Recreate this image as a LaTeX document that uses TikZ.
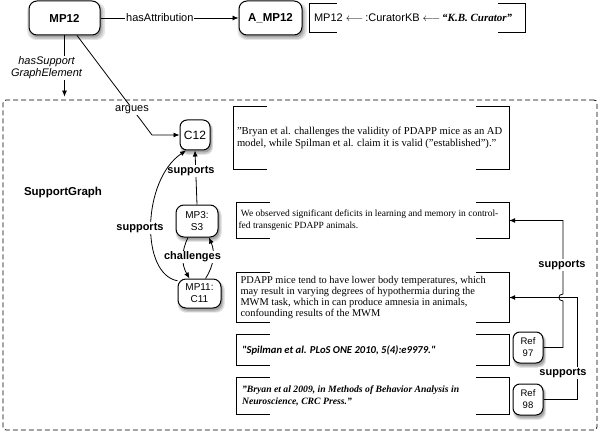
\documentclass[tikz,border=0pt]{standalone}
\usepackage{fontspec}
\setmainfont{Liberation Serif}
\setsansfont{Liberation Sans}
\newfontfamily\carlito{Carlito}
\usetikzlibrary{arrows.meta,shadows,calc}
\begin{document}
\begin{tikzpicture}[x=1pt,y=-1pt,
  every node/.style={font=\sffamily},
  rnode/.style={draw=black, line width=1pt, rounded corners=8pt, fill=white, inner sep=0pt, align=center,
    drop shadow={shadow xshift=1.5pt, shadow yshift=-3pt, opacity=0.10, fill=black, shadow scale=1.10},
    drop shadow={shadow xshift=1.5pt, shadow yshift=-3pt, opacity=0.12, fill=black, shadow scale=1.05},
    drop shadow={shadow xshift=1.5pt, shadow yshift=-2.5pt, opacity=0.18, fill=black}},
  frame/.style={inner sep=0pt},
  tb/.style={inner sep=0pt, align=left, anchor=west},
  br/.style={line width=1.1pt},
  arr/.style={-{Latex[length=6pt,width=5pt]}, line width=0.8pt},
  lab/.style={fill=white, inner sep=1pt, font=\sffamily\bfseries\fontsize{11}{13}\selectfont},
  rel/.style={fill=white, inner sep=1pt, font=\sffamily\fontsize{11}{13}\selectfont}
]
\fill[white] (0,0) rectangle (600,433);
\useasboundingbox (0,0) rectangle (600,433);

% support graph frame
\node[frame, draw, line width=0.8pt, dash pattern=on 5pt off 3pt, rounded corners=3pt,
  minimum width=594pt, minimum height=330pt] (SG) at (300,265) {};
\node[font=\sffamily\bfseries\fontsize{11.5}{13}\selectfont] (sgl) at (63,193) {SupportGraph};

% top nodes
\node[rnode, minimum width=71pt, minimum height=34pt, font=\sffamily\bfseries\fontsize{11.5}{13}\selectfont] (MP12) at (64.5,18) {MP12};
\node[rnode, minimum width=63pt, minimum height=34pt, font=\sffamily\bfseries\fontsize{11.5}{13}\selectfont] (AMP) at (270.5,18) {A\_MP12};
\draw[arr] (MP12) -- (AMP) node[rel, pos=0.43] {hasAttribution};

\node[frame, minimum width=215pt, minimum height=28pt] (CK) at (417.5,18) {};
\node[tb, font=\sffamily\fontsize{11}{12}\selectfont] (CKt) at ([xshift=4pt]CK.west) {MP12 $\longleftarrow$\,:CuratorKB $\longleftarrow$\,{\rmfamily\bfseries\itshape “K.B. Curator”}};

\draw[arr, shorten >=3pt] (MP12.south) -- (MP12.south |- SG.north);
\node[rel, font=\sffamily\itshape\fontsize{11}{12}\selectfont, align=center] (hsge) at (46.5,68) {hasSupport\\GraphElement};

% claim nodes
\node[rnode, minimum width=30pt, minimum height=30pt, rounded corners=7pt, font=\sffamily\fontsize{12}{14}\selectfont] (C12) at (195,135) {C12};
\node[rnode, minimum width=42pt, minimum height=32pt, font=\sffamily\fontsize{10}{12}\selectfont] (MP3) at (197,221) {MP3:\\S3};
\node[rnode, minimum width=43pt, minimum height=29pt, font=\sffamily\fontsize{10}{12}\selectfont] (MP11) at (199.5,293.5) {MP11:\\C11};

\coordinate (ab) at (152,135);
\draw[arr] ([xshift=12.5pt]MP12.south) -- (ab) -- (C12.west);
\node[rel, inner sep=0.5pt] (arg) at (132,110) {argues};

\draw[arr] (MP3.north) -- (C12.south);
\node[lab] (s1) at (191,171) {supports};
\draw[arr] (MP11.150) .. controls (140,274) and (142,180) .. (C12.240);
\node[lab] (s2) at (140,228) {supports};

\draw[arr] ([xshift=-9pt]MP3.south) to[bend right=28] ([xshift=-10pt]MP11.north);
\draw[arr] ([xshift=6pt]MP11.north) to[bend right=28] ([xshift=12pt]MP3.south);
\node[lab] (ch) at (192.5,257) {challenges};

% text boxes
\node[frame, minimum width=275pt, minimum height=62pt] (B1) at (371.5,138) {};
\node[tb, font=\rmfamily\fontsize{10.6}{11.5}\selectfont] (B1t) at ([xshift=3pt]B1.west)
 {"Bryan et al. challenges the validity of PDAPP mice as an AD\\model, while Spilman et al. claim it is valid ("established")."};

\node[frame, minimum width=272pt, minimum height=35pt] (B2) at (373,220.5) {};
\node[tb, font=\rmfamily\fontsize{9.5}{12}\selectfont] (B2t) at ([xshift=1.5pt]B2.west)
 {\ We observed significant deficits in learning and memory in control-\\fed transgenic PDAPP animals.};

\node[frame, minimum width=272pt, minimum height=49pt] (B3) at (373,297.5) {};
\node[tb, font=\rmfamily\fontsize{10.4}{11.3}\selectfont] (B3t) at ([xshift=3.5pt]B3.west)
 {PDAPP mice tend to have lower body temperatures, which\\may result in varying degrees of hypothermia during the\\MWM task, which in can produce amnesia in animals,\\confounding results of the MWM};

\node[frame, minimum width=272pt, minimum height=30pt] (B4) at (373,350) {};
\node[tb, font=\carlito\bfseries\itshape\fontsize{10.6}{12}\selectfont] (B4t) at ([xshift=5pt]B4.west)
 {"Spilman et al. PLoS ONE 2010, 5(4):e9979."};

\node[frame, minimum width=272pt, minimum height=36pt] (B5) at (373,396) {};
\node[tb, font=\rmfamily\bfseries\itshape\fontsize{9.7}{12}\selectfont] (B5t) at ([xshift=5pt]B5.west)
 {"Bryan et al 2009, in Methods of Behavior Analysis in\\Neuroscience, CRC Press."};

\foreach \n/\a in {B1/33,B2/33,B3/33,B4/33,B5/33,CK/27}{
  \draw[br] ([xshift=\a pt]\n.north west) -- (\n.north west) -- (\n.south west) -- ([xshift=\a pt]\n.south west);
  \draw[br] ([xshift=-\a pt]\n.north east) -- (\n.north east) -- (\n.south east) -- ([xshift=-\a pt]\n.south east);
}

% references
\node[rnode, minimum width=30pt, minimum height=31pt, rounded corners=7pt, font=\sffamily\fontsize{9.5}{12}\selectfont] (R97) at (528,347.5) {Ref\\97};
\node[rnode, minimum width=30pt, minimum height=31pt, rounded corners=7pt, font=\sffamily\fontsize{9.5}{12}\selectfont] (R98) at (528,399.5) {Ref\\98};

\coordinate (k97) at (563,220.5);
\coordinate (h1) at (563,301);
\coordinate (h2) at (563,294);
\coordinate (k98) at (577,297.5);
\draw[arr] (R98.east) -| (k98) -- (B3.east);
\draw[arr] (R97.east) -| (h1) .. controls +(-5.5,0) and +(-5.5,0) .. (h2) -- (k97) -- (B2.east);
\node[lab] (s3) at (562,265) {supports};
\node[lab] (s4) at (563,373) {supports};
\end{tikzpicture}
\end{document}
